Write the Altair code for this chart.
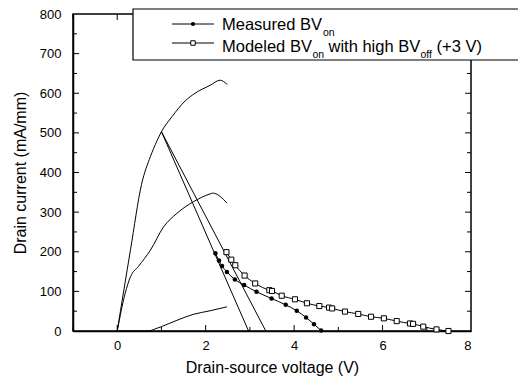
import altair as alt
import pandas as pd

# ---- data ----
top_x = [0.0, 0.3, 0.55, 0.75, 0.9, 1.0, 1.24, 1.54, 1.76, 2.1, 2.33, 2.4, 2.49]
top_y = [0, 205, 370, 440, 480, 503, 541, 581, 600, 620, 633, 630, 622]

mid_x = [0.0, 0.18, 0.3, 0.48, 0.75, 1.05, 1.35, 1.72, 2.1, 2.16, 2.48]
mid_y = [0, 95, 137, 163, 204, 263, 297, 326, 346, 348, 323]

low_x = [0.0, 0.7, 0.85, 1.0, 1.35, 1.72, 2.1, 2.48]
low_y = [0, 0, 5, 11, 27, 42, 51, 61]

lineA_x = [1.0, 2.97]
lineA_y = [503, 0]
lineB_x = [1.0, 3.36]
lineB_y = [503, 0]

meas_x = [2.22, 2.30, 2.37, 2.48, 2.66, 2.87, 3.15, 3.49, 3.81, 4.06, 4.27, 4.45, 4.61]
meas_y = [196, 178, 164, 149, 130, 116, 99, 82, 66, 51, 34, 17, 1]

mod_x = [2.47, 2.58, 2.67, 2.88, 3.12, 3.44, 3.50, 3.72, 4.02, 4.29, 4.57, 4.79, 4.86,
         5.15, 5.45, 5.74, 6.03, 6.32, 6.62, 6.69, 6.92, 7.22, 7.49]
mod_y = [199, 180, 166, 140, 120, 103, 101, 89, 80, 70, 63, 59, 57,
         49, 43, 36, 32, 25, 19, 18, 11, 4, 0]

x_major = [0, 2, 4, 6]
x_minor = [-1, 1, 3, 5, 7]
y_major = [100, 200, 300, 400, 500, 600, 700]
y_minor = [50, 150, 250, 350, 450, 550, 650, 750]
x_labels = [0, 2, 4, 6, 8]
y_labels = [0, 100, 200, 300, 400, 500, 600, 700, 800]

legend_1 = "Measured BV"
legend_2a = "Modeled BV"
legend_2b = "with high BV"
legend_2c = "(+3 V)"
sub_on = "on"
sub_off = "off"

W, H = 398, 317
FONT = "Liberation Sans"


def frame(name, xs, ys):
    return pd.DataFrame({"curve": name, "x": xs, "y": ys, "i": list(range(len(xs)))})


curves = pd.concat([
    frame("top", top_x, top_y),
    frame("mid", mid_x, mid_y),
    frame("low", low_x, low_y),
    frame("A", lineA_x, lineA_y),
    frame("B", lineB_x, lineB_y),
    frame("meas", meas_x, meas_y),
    frame("mod", mod_x, mod_y),
], ignore_index=True)

X = alt.X("x:Q", scale=alt.Scale(domain=[-1, 8], nice=False, zero=False),
          axis=alt.Axis(values=x_labels, title="Drain-source voltage (V)",
                        labelPadding=8, titlePadding=7))
Y = alt.Y("y:Q", scale=alt.Scale(domain=[0, 800], nice=False),
          axis=alt.Axis(values=y_labels, title="Drain current (mA/mm)",
                        labelPadding=12, titlePadding=11))

lines = alt.Chart(curves).mark_line(color="black", strokeWidth=1, interpolate="monotone").encode(
    x=X, y=Y, detail="curve:N", order="i:Q")

meas_pts = alt.Chart(frame("meas", meas_x, meas_y)).mark_point(
    shape="circle", filled=True, color="black", size=20, opacity=1).encode(x=X, y=Y)
mod_pts = alt.Chart(frame("mod", mod_x, mod_y)).mark_point(
    shape="square", filled=True, fill="white", stroke="black", strokeWidth=1,
    size=26, opacity=1).encode(x=X, y=Y)


def xticks(vals, length, top=False):
    d = pd.DataFrame({"x": vals})
    if top:
        return alt.Chart(d).mark_rule(color="black", strokeWidth=1).encode(
            x=X, y=alt.value(0), y2=alt.value(length))
    return alt.Chart(d).mark_rule(color="black", strokeWidth=1).encode(
        x=X, y=alt.value(H), y2=alt.value(H - length))


def yticks(vals, length, right=False):
    d = pd.DataFrame({"y": vals})
    if right:
        return alt.Chart(d).mark_rule(color="black", strokeWidth=1).encode(
            y=Y, x=alt.value(W), x2=alt.value(W - length))
    return alt.Chart(d).mark_rule(color="black", strokeWidth=1).encode(
        y=Y, x=alt.value(0), x2=alt.value(length))


ticks = [xticks(x_major, 6), xticks(x_minor, 4), xticks(x_major, 6, True), xticks(x_minor, 4, True),
         yticks(y_major, 6), yticks(y_minor, 4), yticks(y_major, 6, True), yticks(y_minor, 4, True)]

one = pd.DataFrame({"a": [0]})

leg_box = alt.Chart(one).mark_rect(fill="white", stroke="black", strokeWidth=1.2).encode(
    x=alt.value(60), x2=alt.value(470), y=alt.value(-5), y2=alt.value(46))

leg_line1 = alt.Chart(one).mark_rule(color="black", strokeWidth=1).encode(
    x=alt.value(99), x2=alt.value(141), y=alt.value(10))
leg_line2 = alt.Chart(one).mark_rule(color="black", strokeWidth=1).encode(
    x=alt.value(99), x2=alt.value(141), y=alt.value(29))
leg_pt1 = alt.Chart(one).mark_point(shape="circle", filled=True, color="black", size=18,
                                    opacity=1).encode(x=alt.value(120), y=alt.value(10))
leg_pt2 = alt.Chart(one).mark_point(shape="square", filled=True, fill="white", stroke="black",
                                    strokeWidth=1, size=20, opacity=1).encode(
    x=alt.value(120), y=alt.value(29))


def txt(s, x, y, size):
    return alt.Chart(one).mark_text(text=s, font=FONT, fontSize=size, align="left",
                                    baseline="alphabetic", color="black").encode(
        x=alt.value(x), y=alt.value(y))


MS, SS = 16.5, 10.5
leg_texts = [
    txt(legend_1, 149, 16, MS),
    txt(sub_on, 250, 22, SS),
    txt(legend_2a, 149, 38, MS),
    txt(sub_on, 239.5, 44, SS),
    txt(legend_2b, 255.5, 38, MS),
    txt(sub_off, 347.5, 44, SS),
    txt(legend_2c, 363.5, 38, MS),
]

chart = alt.layer(
    lines, meas_pts, mod_pts, *ticks,
    leg_box, leg_line1, leg_line2, leg_pt1, leg_pt2, *leg_texts
).properties(
    width=W, height=H, autosize="none", background="white",
    padding={"left": 73, "top": 14, "right": 47, "bottom": 46},
).configure_view(
    stroke="black", strokeWidth=1.5
).configure_axis(
    grid=False, ticks=False, domain=True, domainColor="black", domainWidth=1.5,
    labelFont=FONT, labelFontSize=13, labelColor="black",
    titleFont=FONT, titleFontSize=16, titleFontWeight="normal", titleColor="black",
)

chart.save("out.html", embed_options={"renderer": "svg", "actions": False})
